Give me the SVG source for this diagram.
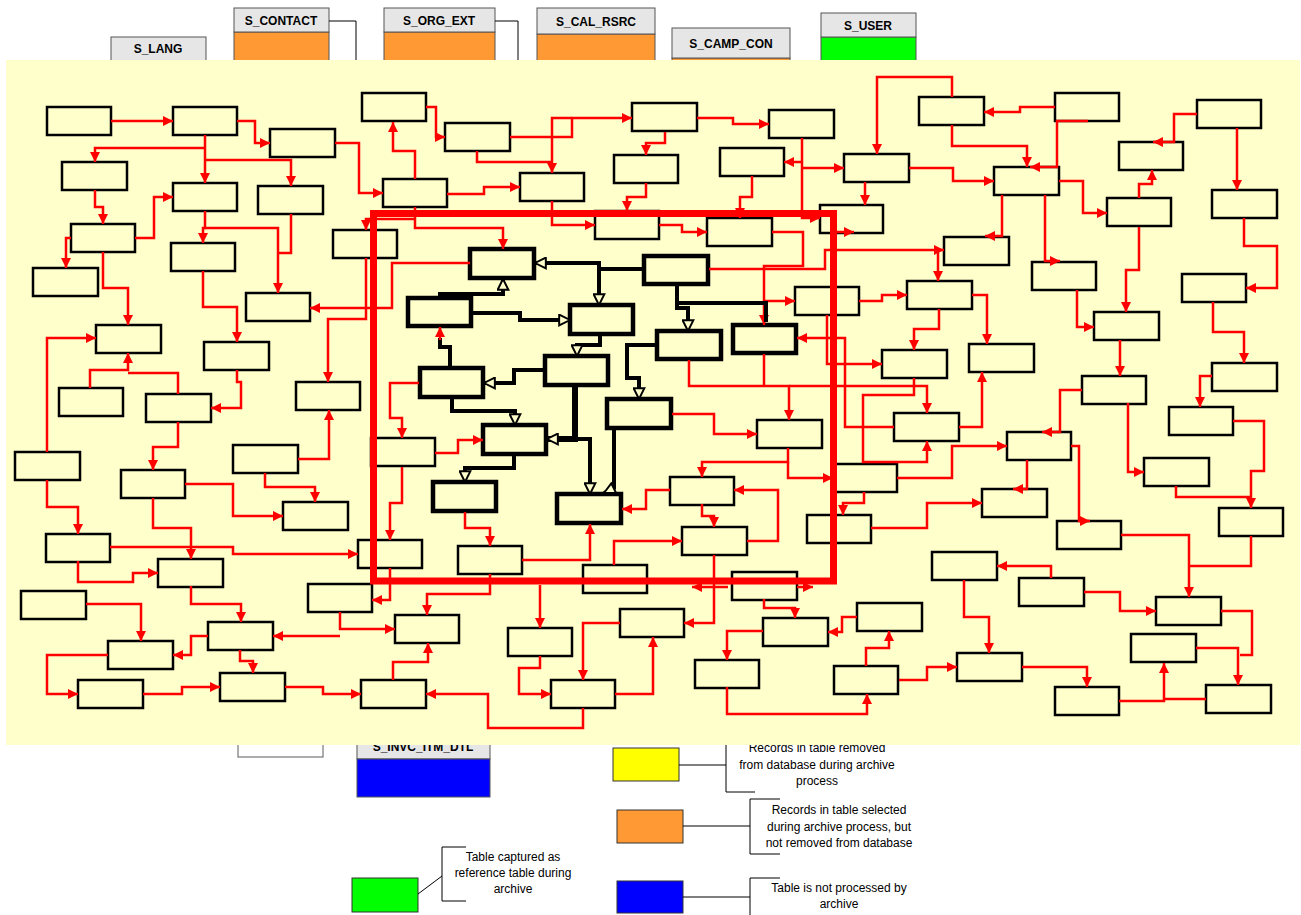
<svg xmlns="http://www.w3.org/2000/svg" width="1301" height="915" viewBox="0 0 1301 915">
<style>
.b{fill:#FFFFCC;stroke:#000;stroke-width:2.5}
.t{fill:#FFFFCC;stroke:#000;stroke-width:4.5}
.r{fill:none;stroke:#f00;stroke-width:2.5}
.ra{marker-end:url(#ar)}
.k{fill:none;stroke:#000;stroke-width:4}
.ka{marker-end:url(#ah)}
.hd{fill:#E6E6E6;stroke:#555;stroke-width:1}
.bd{stroke:#555;stroke-width:1}
.ht{font-family:"Liberation Sans",Arial,sans-serif;font-size:12px;font-weight:bold;text-anchor:middle;fill:#000}
.lt{font-family:"Liberation Sans",Arial,sans-serif;font-size:12px;text-anchor:middle;fill:#000}
.ln{fill:none;stroke:#000;stroke-width:1}
</style>
<defs>
<marker id="ar" viewBox="0 0 10 10" refX="10" refY="5" markerWidth="11" markerHeight="10" markerUnits="userSpaceOnUse" orient="auto"><path d="M0,0 L10,5 L0,10 z" fill="#f00"/></marker>
<marker id="ah" viewBox="0 0 12 12" refX="11" refY="6" markerWidth="13" markerHeight="13" markerUnits="userSpaceOnUse" orient="auto"><path d="M1,1 L11,6 L1,11 z" fill="#FFFFCC" stroke="#000" stroke-width="1.8"/></marker>
</defs>
<rect x="0" y="0" width="1301" height="915" fill="#fff"/>
<g id="tables">
<g id="S_LANG"><rect class="hd" x="111" y="37" width="95" height="25"/><text class="ht" x="158" y="53">S_LANG</text></g>
<g id="S_CONTACT"><rect class="bd" x="234" y="32" width="95" height="40" fill="#FF9933"/><rect class="hd" x="234" y="8" width="95" height="24"/><text class="ht" x="281" y="25">S_CONTACT</text><polyline class="ln" points="329,21 356,21 356,70"/></g>
<g id="S_ORG_EXT"><rect class="bd" x="384" y="32" width="111" height="40" fill="#FF9933"/><rect class="hd" x="384" y="8" width="111" height="24"/><text class="ht" x="439" y="25">S_ORG_EXT</text><polyline class="ln" points="495,21 518,21 518,70"/></g>
<g id="S_CAL_RSRC"><rect class="bd" x="537" y="34" width="118" height="40" fill="#FF9933"/><rect class="hd" x="537" y="8" width="118" height="26"/><text class="ht" x="596" y="26">S_CAL_RSRC</text></g>
<g id="S_CAMP_CON"><rect class="bd" x="672" y="58" width="118" height="20" fill="#FF9933"/><rect class="hd" x="672" y="28" width="118" height="30"/><text class="ht" x="731" y="48">S_CAMP_CON</text></g>
<g id="S_USER"><rect class="bd" x="821" y="37" width="95" height="40" fill="#00FF00"/><rect class="hd" x="821" y="13" width="95" height="24"/><text class="ht" x="868" y="30">S_USER</text></g>
<g id="white_table"><rect x="238" y="700" width="85" height="57" fill="#fff" stroke="#777" stroke-width="1.2"/></g>
<g id="S_INVC_ITM_DTL"><rect class="hd" x="357" y="715" width="133" height="44"/><rect class="bd" x="357" y="759" width="133" height="38" fill="#0000FF"/><text class="ht" x="423" y="751">S_INVC_ITM_DTL</text></g>
</g>
<g id="legend">
<g id="leg_yellow"><rect x="613" y="748" width="66" height="33" fill="#FFFF00" stroke="#333" stroke-width="1"/><polyline class="ln" points="679,765 726,765"/><polyline class="ln" points="755,735 726,735 726,792 755,792"/><text class="lt" x="817" y="752">Records in table removed</text><text class="lt" x="817" y="769">from database during archive</text><text class="lt" x="817" y="785">process</text></g>
<g id="leg_orange"><rect x="617" y="810" width="66" height="33" fill="#FF9933" stroke="#333" stroke-width="1"/><polyline class="ln" points="683,826 750,826"/><polyline class="ln" points="780,799 750,799 750,854 780,854"/><text class="lt" x="839" y="814">Records in table selected</text><text class="lt" x="839" y="831">during archive process, but</text><text class="lt" x="839" y="847">not removed from database</text></g>
<g id="leg_green"><rect x="352" y="878" width="66" height="34" fill="#00FF00" stroke="#333" stroke-width="1"/><polyline class="ln" points="418,894 442,876"/><polyline class="ln" points="466,847 442,847 442,901 466,901"/><text class="lt" x="513" y="861">Table captured as</text><text class="lt" x="513" y="877">reference table during</text><text class="lt" x="513" y="893">archive</text></g>
<g id="leg_blue"><rect x="617" y="881" width="66" height="32" fill="#0000FF" stroke="#333" stroke-width="1"/><polyline class="ln" points="683,897 750,897"/><polyline class="ln" points="780,878 750,878 750,916"/><text class="lt" x="839" y="892">Table is not processed by</text><text class="lt" x="839" y="908">archive</text></g>
</g>
<rect id="background" x="6" y="60" width="1294" height="685" fill="#FFFFCC"/>
<g id="nodes">
<g id="n1"><rect class="b" x="47" y="107" width="64" height="28"/></g>
<g id="n2"><rect class="b" x="173" y="107" width="64" height="28"/></g>
<g id="n3"><rect class="b" x="270" y="129" width="65" height="28"/></g>
<g id="n4"><rect class="b" x="362" y="93" width="64" height="28"/></g>
<g id="n5"><rect class="b" x="62" y="162" width="65" height="28"/></g>
<g id="n6"><rect class="b" x="173" y="183" width="64" height="28"/></g>
<g id="n7"><rect class="b" x="258" y="186" width="65" height="28"/></g>
<g id="n8"><rect class="b" x="383" y="179" width="64" height="28"/></g>
<g id="n9"><rect class="b" x="71" y="224" width="64" height="28"/></g>
<g id="n10"><rect class="b" x="171" y="243" width="64" height="28"/></g>
<g id="n11"><rect class="b" x="33" y="268" width="65" height="28"/></g>
<g id="n12"><rect class="b" x="333" y="230" width="64" height="28"/></g>
<g id="n13"><rect class="b" x="246" y="293" width="64" height="28"/></g>
<g id="n14"><rect class="b" x="96" y="325" width="65" height="28"/></g>
<g id="n15"><rect class="b" x="204" y="342" width="65" height="28"/></g>
<g id="n16"><rect class="b" x="59" y="388" width="64" height="28"/></g>
<g id="n17"><rect class="b" x="146" y="394" width="65" height="28"/></g>
<g id="n18"><rect class="b" x="296" y="382" width="64" height="28"/></g>
<g id="n19"><rect class="b" x="15" y="452" width="65" height="28"/></g>
<g id="n20"><rect class="b" x="121" y="470" width="64" height="28"/></g>
<g id="n21"><rect class="b" x="233" y="445" width="65" height="28"/></g>
<g id="n22"><rect class="b" x="283" y="502" width="65" height="28"/></g>
<g id="n23"><rect class="b" x="46" y="534" width="64" height="28"/></g>
<g id="n24"><rect class="b" x="158" y="559" width="65" height="28"/></g>
<g id="n25"><rect class="b" x="358" y="540" width="64" height="28"/></g>
<g id="n26"><rect class="b" x="21" y="591" width="65" height="28"/></g>
<g id="n27"><rect class="b" x="308" y="584" width="64" height="28"/></g>
<g id="n28"><rect class="b" x="208" y="622" width="65" height="28"/></g>
<g id="n29"><rect class="b" x="395" y="615" width="64" height="28"/></g>
<g id="n30"><rect class="b" x="108" y="641" width="65" height="28"/></g>
<g id="n31"><rect class="b" x="78" y="680" width="65" height="28"/></g>
<g id="n32"><rect class="b" x="220" y="673" width="65" height="28"/></g>
<g id="n33"><rect class="b" x="361" y="680" width="65" height="28"/></g>
<g id="n34"><rect class="b" x="371" y="438" width="64" height="28"/></g>
<g id="n35"><rect class="b" x="445" y="123" width="65" height="28"/></g>
<g id="n36"><rect class="b" x="632" y="103" width="65" height="28"/></g>
<g id="n37"><rect class="b" x="769" y="110" width="65" height="28"/></g>
<g id="n38"><rect class="b" x="520" y="173" width="64" height="28"/></g>
<g id="n39"><rect class="b" x="614" y="155" width="64" height="28"/></g>
<g id="n40"><rect class="b" x="720" y="148" width="64" height="28"/></g>
<g id="n41"><rect class="b" x="595" y="211" width="64" height="28"/></g>
<g id="n42"><rect class="b" x="707" y="218" width="65" height="28"/></g>
<g id="n43"><rect class="b" x="820" y="205" width="63" height="28"/></g>
<g id="n44"><rect class="b" x="757" y="420" width="65" height="28"/></g>
<g id="n45"><rect class="b" x="670" y="477" width="64" height="28"/></g>
<g id="n46"><rect class="b" x="682" y="527" width="65" height="28"/></g>
<g id="n47"><rect class="b" x="807" y="515" width="64" height="28"/></g>
<g id="n49"><rect class="b" x="458" y="546" width="64" height="28"/></g>
<g id="n50"><rect class="b" x="583" y="565" width="64" height="28"/></g>
<g id="n51"><rect class="b" x="732" y="572" width="65" height="28"/></g>
<g id="n52"><rect class="b" x="508" y="628" width="64" height="28"/></g>
<g id="n53"><rect class="b" x="620" y="609" width="64" height="28"/></g>
<g id="n54"><rect class="b" x="763" y="618" width="65" height="28"/></g>
<g id="n55"><rect class="b" x="551" y="680" width="64" height="28"/></g>
<g id="n56"><rect class="b" x="695" y="660" width="64" height="28"/></g>
<g id="n57"><rect class="b" x="834" y="666" width="64" height="28"/></g>
<g id="n58"><rect class="b" x="919" y="97" width="65" height="28"/></g>
<g id="n59"><rect class="b" x="1055" y="93" width="64" height="28"/></g>
<g id="n60"><rect class="b" x="1197" y="100" width="64" height="28"/></g>
<g id="n61"><rect class="b" x="844" y="154" width="65" height="28"/></g>
<g id="n62"><rect class="b" x="994" y="167" width="65" height="28"/></g>
<g id="n63"><rect class="b" x="1119" y="142" width="64" height="28"/></g>
<g id="n64"><rect class="b" x="1212" y="190" width="65" height="28"/></g>
<g id="n65"><rect class="b" x="1107" y="198" width="64" height="28"/></g>
<g id="n66"><rect class="b" x="944" y="237" width="65" height="28"/></g>
<g id="n67"><rect class="b" x="1032" y="262" width="64" height="28"/></g>
<g id="n68"><rect class="b" x="1182" y="274" width="64" height="28"/></g>
<g id="n69"><rect class="b" x="795" y="287" width="64" height="28"/></g>
<g id="n70"><rect class="b" x="907" y="281" width="65" height="28"/></g>
<g id="n71"><rect class="b" x="1094" y="312" width="65" height="28"/></g>
<g id="n72"><rect class="b" x="882" y="350" width="65" height="28"/></g>
<g id="n73"><rect class="b" x="969" y="344" width="65" height="28"/></g>
<g id="n74"><rect class="b" x="1212" y="363" width="65" height="28"/></g>
<g id="n75"><rect class="b" x="1082" y="376" width="64" height="28"/></g>
<g id="n76"><rect class="b" x="894" y="413" width="65" height="28"/></g>
<g id="n77"><rect class="b" x="1169" y="407" width="64" height="28"/></g>
<g id="n78"><rect class="b" x="1007" y="432" width="64" height="28"/></g>
<g id="n79"><rect class="b" x="833" y="464" width="64" height="28"/></g>
<g id="n80"><rect class="b" x="1144" y="458" width="65" height="28"/></g>
<g id="n81"><rect class="b" x="982" y="489" width="65" height="28"/></g>
<g id="n83"><rect class="b" x="1057" y="521" width="64" height="28"/></g>
<g id="n84"><rect class="b" x="1219" y="508" width="64" height="28"/></g>
<g id="n85"><rect class="b" x="932" y="552" width="65" height="28"/></g>
<g id="n86"><rect class="b" x="1019" y="578" width="65" height="28"/></g>
<g id="n87"><rect class="b" x="1156" y="597" width="65" height="28"/></g>
<g id="n88"><rect class="b" x="857" y="603" width="65" height="28"/></g>
<g id="n89"><rect class="b" x="1131" y="634" width="65" height="28"/></g>
<g id="n90"><rect class="b" x="957" y="653" width="65" height="28"/></g>
<g id="n91"><rect class="b" x="1055" y="687" width="64" height="28"/></g>
<g id="n92"><rect class="b" x="1206" y="685" width="65" height="28"/></g>
<g id="t1"><rect class="t" x="470" y="249" width="64" height="29"/></g>
<g id="t2"><rect class="t" x="644" y="256" width="64" height="28"/></g>
<g id="t3"><rect class="t" x="408" y="298" width="63" height="28"/></g>
<g id="t4"><rect class="t" x="570" y="305" width="63" height="29"/></g>
<g id="t5"><rect class="t" x="657" y="331" width="64" height="28"/></g>
<g id="t6"><rect class="t" x="733" y="325" width="63" height="28"/></g>
<g id="t7"><rect class="t" x="545" y="356" width="63" height="29"/></g>
<g id="t8"><rect class="t" x="420" y="368" width="63" height="29"/></g>
<g id="t9"><rect class="t" x="607" y="399" width="64" height="29"/></g>
<g id="t10"><rect class="t" x="483" y="425" width="63" height="29"/></g>
<g id="t11"><rect class="t" x="433" y="482" width="63" height="29"/></g>
<g id="t12"><rect class="t" x="557" y="494" width="64" height="29"/></g>
</g>
<g id="connectors">
<polyline class="r ra" points="111,121 173,121"/>
<polyline class="r ra" points="237,121 255,121 255,143 270,143"/>
<polyline class="r ra" points="205,135 205,183"/>
<polyline class="r ra" points="205,148 95,148 95,162"/>
<polyline class="r ra" points="205,160 291,160 291,186"/>
<polyline class="r ra" points="335,143 359,143 359,193 383,193"/>
<polyline class="r ra" points="415,179 415,151 393,151 393,122"/>
<polyline class="r ra" points="426,107 436,107 436,137 445,137"/>
<polyline class="r ra" points="95,190 95,207 103,207 103,224"/>
<polyline class="r ra" points="71,238 66,238 66,268"/>
<polyline class="r ra" points="135,238 154,238 154,197 173,197"/>
<polyline class="r ra" points="103,252 103,288 128,288 128,325"/>
<polyline class="r ra" points="205,211 205,228 203,228 203,243"/>
<polyline class="r ra" points="205,228 278,228 278,293"/>
<polyline class="r" points="291,214 291,253 279,253"/>
<polyline class="r ra" points="203,271 203,307 237,307 237,342"/>
<polyline class="r ra" points="366,258 366,319 328,319 328,382"/>
<polyline class="r ra" points="470,263 392,263 392,308 310,308"/>
<polyline class="r ra" points="47,452 47,338 96,338"/>
<polyline class="r ra" points="90,388 90,370 128,370 128,353"/>
<polyline class="r" points="178,394 178,373 128,373"/>
<polyline class="r ra" points="237,370 237,382 241,382 241,408 211,408"/>
<polyline class="r ra" points="298,459 329,459 329,410"/>
<polyline class="r ra" points="415,207 415,228 503,228 503,249"/>
<polyline class="r ra" points="415,219 366,219 366,230"/>
<polyline class="r ra" points="510,137 572,137 572,118 632,118"/>
<polyline class="r ra" points="572,118 552,118 552,173"/>
<polyline class="r" points="477,151 477,162 552,162"/>
<polyline class="r ra" points="447,194 484,194 484,187 520,187"/>
<polyline class="r ra" points="665,132 665,143 646,143 646,155"/>
<polyline class="r ra" points="697,118 733,118 733,124 769,124"/>
<polyline class="r ra" points="646,183 646,197 627,197 627,211"/>
<polyline class="r ra" points="552,201 552,225 595,225"/>
<polyline class="r ra" points="659,225 682,225 682,232 707,232"/>
<polyline class="r ra" points="752,176 752,197 740,197 740,218"/>
<polyline class="r ra" points="802,138 802,218 820,218"/>
<polyline class="r ra" points="802,162 784,162"/>
<polyline class="r ra" points="802,168 844,168"/>
<polyline class="r ra" points="772,232 803,232 803,266 764,266 764,325"/>
<polyline class="r ra" points="764,301 795,301"/>
<polyline class="r ra" points="709,269 825,269 825,250 944,250"/>
<polyline class="r ra" points="938,250 938,281"/>
<polyline class="r ra" points="836,232 854,232"/>
<polyline class="r ra" points="419,383 390,383 390,418 402,418 402,438"/>
<polyline class="r ra" points="435,453 458,453 458,440 483,440"/>
<polyline class="r ra" points="402,467 402,503 390,503 390,540"/>
<polyline class="r ra" points="465,512 465,528 490,528 490,546"/>
<polyline class="r ra" points="522,560 590,560 590,524"/>
<polyline class="r ra" points="390,568 390,600 372,600"/>
<polyline class="r ra" points="490,574 490,594 427,594 427,615"/>
<polyline class="r ra" points="540,585 540,628"/>
<polyline class="r ra" points="393,680 393,662 428,662 428,643"/>
<polyline class="r ra" points="540,656 540,668 519,668 519,694 551,694"/>
<polyline class="r ra" points="615,694 653,694 653,637"/>
<polyline class="r ra" points="620,623 583,623 583,680"/>
<polyline class="r ra" points="583,708 583,728 488,728 488,694 426,694"/>
<polyline class="r ra" points="340,612 340,629 395,629"/>
<polyline class="r ra" points="340,636 273,636"/>
<polyline class="r ra" points="672,414 714,414 714,434 757,434"/>
<polyline class="r ra" points="689,360 689,386 789,386 789,420"/>
<polyline class="r" points="764,354 764,386"/>
<polyline class="r ra" points="789,386 927,386 927,413"/>
<polyline class="r ra" points="788,448 788,462 702,462 702,477"/>
<polyline class="r ra" points="788,462 788,478 833,478"/>
<polyline class="r ra" points="670,490 646,490 646,509 622,509"/>
<polyline class="r ra" points="702,504 702,516 714,516 714,527"/>
<polyline class="r ra" points="747,541 778,541 778,490 734,490"/>
<polyline class="r ra" points="614,565 614,541 682,541"/>
<polyline class="r ra" points="714,555 714,623 684,623"/>
<polyline class="r ra" points="728,587 692,587"/>
<polyline class="r ra" points="797,587 813,587"/>
<polyline class="r ra" points="764,599 764,608 795,608 795,618"/>
<polyline class="r ra" points="763,631 727,631 727,660"/>
<polyline class="r ra" points="727,687 727,714 867,714 867,694"/>
<polyline class="r ra" points="857,617 842,617 842,632 828,632"/>
<polyline class="r ra" points="47,480 47,507 78,507 78,534"/>
<polyline class="r ra" points="178,422 178,447 153,447 153,470"/>
<polyline class="r ra" points="185,484 233,484 233,516 283,516"/>
<polyline class="r ra" points="265,473 265,487 315,487 315,502"/>
<polyline class="r ra" points="153,498 153,528 191,528 191,559"/>
<polyline class="r ra" points="110,547 233,547 233,554 358,554"/>
<polyline class="r ra" points="78,561 78,582 133,582 133,573 158,573"/>
<polyline class="r ra" points="191,586 191,604 241,604 241,622"/>
<polyline class="r ra" points="86,604 141,604 141,641"/>
<polyline class="r ra" points="208,636 191,636 191,655 173,655"/>
<polyline class="r ra" points="240,650 240,661 253,661 253,673"/>
<polyline class="r ra" points="108,655 47,655 47,694 78,694"/>
<polyline class="r ra" points="143,694 182,694 182,687 220,687"/>
<polyline class="r ra" points="285,687 323,687 323,694 361,694"/>
<polyline class="r ra" points="952,97 952,77 877,77 877,154"/>
<polyline class="r ra" points="1055,107 1020,107 1020,112 984,112"/>
<polyline class="r ra" points="952,125 952,146 1027,146 1027,167"/>
<polyline class="r ra" points="1088,121 1057,121 1057,167 1030,167"/>
<polyline class="r ra" points="909,168 953,168 953,181 994,181"/>
<polyline class="r ra" points="865,182 865,205"/>
<polyline class="r ra" points="1059,181 1083,181 1083,213 1107,213"/>
<polyline class="r ra" points="1002,195 1002,236 985,236"/>
<polyline class="r ra" points="1045,195 1045,261 1060,261"/>
<polyline class="r ra" points="1197,114 1174,114 1174,142 1153,142"/>
<polyline class="r ra" points="1237,128 1237,190"/>
<polyline class="r ra" points="1139,198 1139,184 1152,184 1152,170"/>
<polyline class="r ra" points="1244,218 1244,246 1277,246 1277,288 1246,288"/>
<polyline class="r ra" points="1139,227 1139,270 1126,270 1126,312"/>
<polyline class="r ra" points="1077,290 1077,327 1094,327"/>
<polyline class="r ra" points="1213,302 1213,332 1244,332 1244,363"/>
<polyline class="r ra" points="1120,340 1120,376"/>
<polyline class="r ra" points="1212,376 1200,376 1200,407"/>
<polyline class="r ra" points="859,301 882,301 882,295 907,295"/>
<polyline class="r ra" points="972,295 987,295 987,344"/>
<polyline class="r ra" points="939,309 939,329 914,329 914,350"/>
<polyline class="r ra" points="827,315 827,364 882,364"/>
<polyline class="r ra" points="914,378 914,395 863,395 863,462 927,462 927,441"/>
<polyline class="r ra" points="959,427 982,427 982,372"/>
<polyline class="r ra" points="1128,403 1128,472 1144,472"/>
<polyline class="r ra" points="1082,390 1060,390 1060,432 1042,432"/>
<polyline class="r ra" points="1233,421 1264,421 1264,471 1251,471 1251,508"/>
<polyline class="r" points="1176,486 1176,497 1251,497"/>
<polyline class="r ra" points="1027,460 1027,489 1013,489"/>
<polyline class="r ra" points="1071,446 1079,446 1079,521 1090,521"/>
<polyline class="r ra" points="897,478 952,478 952,446 1007,446"/>
<polyline class="r ra" points="864,492 864,503 843,503 843,515"/>
<polyline class="r ra" points="871,528 927,528 927,503 982,503"/>
<polyline class="r ra" points="1121,535 1189,535 1189,597"/>
<polyline class="r" points="1251,536 1251,566 1190,566"/>
<polyline class="r ra" points="1051,578 1051,566 997,566"/>
<polyline class="r ra" points="1084,592 1120,592 1120,611 1156,611"/>
<polyline class="r ra" points="964,580 964,617 989,617 989,653"/>
<polyline class="r" points="1221,611 1252,611 1252,655 1240,655"/>
<polyline class="r ra" points="1196,648 1238,648 1238,685"/>
<polyline class="r ra" points="1119,701 1164,701 1164,663"/>
<polyline class="r" points="1206,699 1164,699"/>
<polyline class="r ra" points="1022,667 1087,667 1087,687"/>
<polyline class="r ra" points="899,680 927,680 927,667 957,667"/>
<polyline class="r ra" points="866,666 866,648 889,648 889,631"/>
<polyline class="r ra" points="894,427 845,427 845,338 797,338"/>
<polyline class="k ka" points="440,298 440,294 503,294 503,279"/>
<polyline class="k ka" points="644,269 599,269 599,263 535,263"/>
<polyline class="k ka" points="599,269 599,305"/>
<polyline class="k ka" points="472,313 520,313 520,320 570,320"/>
<polyline class="k ka" points="677,284 677,308 688,308 688,331"/>
<polyline class="k" points="677,303 766,303 766,322"/>
<polyline class="k ka" points="600,335 600,345 577,345 577,356"/>
<polyline class="k ka" points="545,370 514,370 514,383 484,383"/>
<polyline class="k" points="450,368 450,347 440,347 440,338"/>
<polyline class="r ra" points="440,340 440,327"/>
<polyline class="k ka" points="657,345 627,345 627,378 639,378 639,399"/>
<polyline class="k ka" points="452,398 452,411 515,411 515,425"/>
<polyline class="k ka" points="575,386 575,439 547,439" style="stroke-width:6"/>
<polyline class="k ka" points="575,439 590,439 590,494"/>
<polyline class="k ka" points="614,428 614,488 604,493"/>
<polyline class="k ka" points="514,455 514,468 465,468 465,482"/>
</g>
<rect id="archive_frame" x="373.5" y="213.5" width="460" height="367.5" fill="none" stroke="#f00" stroke-width="7"/>
</svg>
